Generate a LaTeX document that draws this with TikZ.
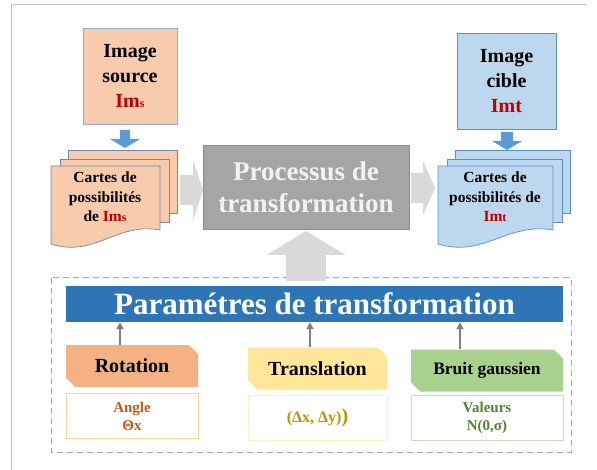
\documentclass[tikz,border=0pt]{standalone}
\usepackage{fontspec}
\setmainfont{Liberation Serif}
\usetikzlibrary{calc,positioning,arrows.meta,shapes.misc}
\definecolor{srcfill}{HTML}{F8CBAD}
\definecolor{srcline}{HTML}{8EA9DB}
\definecolor{dstfill}{HTML}{BDD7EE}
\definecolor{dstline}{HTML}{5B8FCB}
\definecolor{imred}{HTML}{C00000}
\definecolor{procgray}{HTML}{A5A5A5}
\definecolor{arrgray}{HTML}{D9D9D9}
\definecolor{arrblue}{HTML}{5B9BD5}
\definecolor{bannerblue}{HTML}{2E75B6}
\definecolor{rotfill}{HTML}{F4B183}
\definecolor{transfill}{HTML}{FFE699}
\definecolor{bruitfill}{HTML}{A9D18E}
\definecolor{rottext}{HTML}{C55A11}
\definecolor{transtext}{HTML}{BF9000}
\definecolor{bruittext}{HTML}{548235}
\tikzset{
  imgbox/.style={draw=#1,line width=0.8pt,align=center,
    minimum width=96pt,minimum height=96pt,inner sep=0pt,
    font=\bfseries\fontsize{20}{25}\selectfont},
  doctext/.style={align=center,inner sep=0pt,
    font=\bfseries\fontsize{15.5}{19.5}\selectfont},
  procbox/.style={fill=procgray,draw=procgray!85!black,line width=0.6pt,
    text=white!95!black,align=center,minimum width=206pt,minimum height=84pt,
    font=\bfseries\fontsize{27}{32}\selectfont},
  banner/.style={fill=bannerblue,text=white,minimum width=497pt,
    minimum height=36pt,inner sep=0pt,font=\bfseries\fontsize{31}{31}\selectfont},
  parbox/.style={chamfered rectangle,chamfered rectangle corners={north east,south west},
    chamfered rectangle xsep=6pt,fill=#1,minimum height=42pt,inner sep=0pt},
  valbox/.style={draw=#1,line width=0.9pt,fill=white,align=center,
    minimum height=45pt,inner sep=0pt,font=\bfseries\fontsize{15}{18}\selectfont},
  pararrow/.style={draw=black!50,line width=2pt,-{Triangle[length=7pt,width=7pt]}},
}
% x y angle length halfshaft halfhead headlength colour
\newcommand{\blockarrow}[8]{%
  \fill[#8,shift={(#1,#2)},rotate=#3]
    (0,-#5) -- ({#4-#7},-#5) -- ({#4-#7},-#6) -- (#4,0)
    -- ({#4-#7},#6) -- ({#4-#7},#5) -- (0,#5) -- cycle;}
% name x y (front page top left) width fill line
\newcommand{\docstack}[5]{%
  \filldraw[fill=#4,draw=#5,line width=0.7pt] ({#1+17},{#2-16}) rectangle ++(#3,63);
  \filldraw[fill=#4,draw=#5,line width=0.7pt] ({#1+9},{#2-7}) rectangle ++(#3,63);
  \filldraw[fill=#4,draw=#5,line width=0.7pt] (#1,#2) -- ({#1+#3},#2) -- ({#1+#3},{#2+64})
    .. controls ({#1+0.6*#3},{#2+56}) and ({#1+0.4*#3},{#2+92}) .. (#1,{#2+78}) -- cycle;}
\newcommand{\smallsub}[1]{{\fontsize{12}{12}\selectfont #1}}

\begin{document}
\begin{tikzpicture}[x=1pt,y=-1pt]
  \useasboundingbox (0,0) rectangle (597,470);
  \draw[black!25,line width=1pt] (11,470) -- (11,5) -- (587,5);
  % source side
  \node[imgbox=srcline,fill=srcfill,minimum width=94pt] (src) at (130,76)
    {Image\\source\\\textcolor{imred}{Im\smallsub{s}}};
  \blockarrow{125}{130}{-90}{18}{5}{15}{9}{arrblue}
  \docstack{51}{166}{109}{srcfill}{srcline!80!black}
  \node[doctext] (srcmap) at (105,197)
    {Cartes de\\possibilités\\de \textcolor{imred}{Im\smallsub{s}}};
  % target side
  \node[imgbox=dstline,fill=dstfill,minimum width=99pt] (dst) at (506.5,81)
    {Image\\cible\\\textcolor{imred}{Imt}};
  \blockarrow{507}{132}{-90}{18}{6}{15}{9}{arrblue}
  \docstack{438}{166}{115}{dstfill}{dstline}
  \node[doctext] (dstmap) at (495,197)
    {Cartes de\\possibilités de\\\textcolor{imred}{Im\smallsub{t}}};
  % process
  \node[procbox] (proc) at (306,187) {Processus de\\transformation};
  \blockarrow{180}{190}{0}{23}{15}{30}{10}{arrgray}
  \blockarrow{411}{188}{0}{24}{15}{27}{12}{arrgray}
  % parameters
  \draw[black!35,line width=1pt,dash pattern=on 6pt off 4pt] (51,278) rectangle (571,452);
  \blockarrow{306}{281}{90}{50}{20}{39.5}{24}{arrgray}
  \node[banner] (param) at (314.5,304) {Paramétres de transformation};
  \node[parbox=rotfill,minimum width=132pt,font=\bfseries\fontsize{20}{20}\selectfont]
    (rot) at (132,366) {Rotation};
  \node[parbox=transfill,minimum width=139pt,font=\bfseries\fontsize{20}{20}\selectfont]
    (trans) at (317.5,368.5) {Translation};
  \node[parbox=bruitfill,minimum width=152pt,font=\bfseries\fontsize{17.5}{20}\selectfont]
    (bruit) at (487,370.5) {Bruit gaussien};
  \node[valbox=transfill!70!rotfill,minimum width=132pt,text=rottext,below=6pt of rot]
    (rotval) {Angle\\Θx};
  \node[valbox=transfill!60,minimum width=139pt,text=transtext,below=5pt of trans,
    font=\bfseries\fontsize{16}{18}\selectfont]
    (transval) {(Δx, Δy)\fontsize{20}{20}\selectfont)};
  \node[valbox=bruitfill!65,minimum width=152pt,text=bruittext,below=3pt of bruit]
    (bruitval) {Valeurs\\N(0,σ)};
  \draw[pararrow] ([xshift=-12pt]rot.north) -- ([xshift=-12pt]rot.north |- param.south);
  \draw[pararrow] ([xshift=-7.5pt]trans.north) -- ([xshift=-7.5pt]trans.north |- param.south);
  \draw[pararrow] ([xshift=-27pt]bruit.north) -- ([xshift=-27pt]bruit.north |- param.south);
\end{tikzpicture}
\end{document}
